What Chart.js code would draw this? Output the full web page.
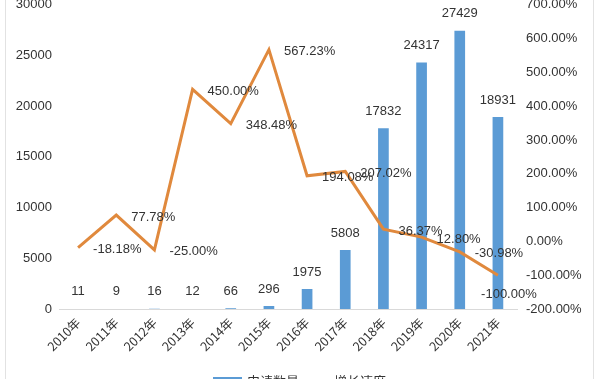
<!DOCTYPE html>
<html>
<head>
<meta charset="utf-8">
<script src="https://cdn.jsdelivr.net/npm/chart.js@4.4.1/dist/chart.umd.min.js"></script>
<style>
html,body{margin:0;padding:0;background:#fff;}
#wrap{position:relative;width:600px;height:379px;overflow:hidden;background:#fff;}
#inner{position:absolute;left:0;top:-12px;width:600px;height:400px;}
.edge{position:absolute;top:0;width:1px;height:379px;background:#e2e2e2;}
</style>
</head>
<body>
<div id="wrap">
  <div id="inner"><canvas id="c"></canvas></div>
  <div class="edge" style="left:5px"></div>
  <div class="edge" style="left:593px"></div>
</div>
<script>
const categories = ['2010年','2011年','2012年','2013年','2014年','2015年','2016年','2017年','2018年','2019年','2020年','2021年'];
const applications = [11, 9, 16, 12, 66, 296, 1975, 5808, 17832, 24317, 27429, 18931];
const growthRates = [-18.18, 77.78, -25.00, 450.00, 348.48, 567.23, 194.08, 207.02, 36.37, 12.80, -30.98, -100.00];
const seriesNames = ['申请数量', '增长速度'];
const leftTicks = [0, 5000, 10000, 15000, 20000, 25000, 30000];
const rightTicks = [-200, -100, 0, 100, 200, 300, 400, 500, 600, 700];

const BLUE = '#5B9BD5';
const ORANGE = '#E0893D';
const TEXT = '#333333';
const FONT = '"Liberation Sans", Arial, sans-serif';
const CJK = '"Noto Sans CJK SC", sans-serif';

const labelPlugin = {
  id: 'valueLabels',
  afterDatasetsDraw(chart) {
    const ctx = chart.ctx;
    ctx.save();
    ctx.font = '13px ' + FONT;
    ctx.fillStyle = TEXT;
    const barMeta = chart.getDatasetMeta(0);
    ctx.textAlign = 'center';
    ctx.textBaseline = 'middle';
    barMeta.data.forEach((el, i) => {
      ctx.fillText(String(applications[i]), el.x, el.y - 17);
    });
    const lineMeta = chart.getDatasetMeta(1);
    lineMeta.data.forEach((el, i) => {
      const txt = growthRates[i].toFixed(2) + '%';
      if (i === growthRates.length - 1) {
        ctx.textAlign = 'center';
        ctx.fillText(txt, el.x + 11, el.y + 19);
      } else {
        ctx.textAlign = 'left';
        ctx.fillText(txt, el.x + 15, el.y + 2);
      }
    });
    ctx.restore();
  },
  afterDraw(chart) {
    const ctx = chart.ctx;
    ctx.save();
    const y = 389 + 4;
    ctx.fillStyle = BLUE;
    ctx.fillRect(213, 389, 29, 9);
    ctx.fillStyle = TEXT;
    ctx.font = '13px ' + CJK;
    ctx.textAlign = 'left';
    ctx.textBaseline = 'middle';
    ctx.fillText(seriesNames[0], 247, y);
    ctx.strokeStyle = ORANGE;
    ctx.lineWidth = 3;
    ctx.beginPath();
    ctx.moveTo(302, y);
    ctx.lineTo(330, y);
    ctx.stroke();
    ctx.fillText(seriesNames[1], 334, y);
    ctx.restore();
  }
};

new Chart(document.getElementById('c'), {
  data: {
    labels: categories,
    datasets: [
      {
        type: 'bar',
        label: seriesNames[0],
        data: applications,
        backgroundColor: BLUE,
        yAxisID: 'y',
        barPercentage: 0.28,
        categoryPercentage: 1.0,
        order: 2
      },
      {
        type: 'line',
        label: seriesNames[1],
        data: growthRates,
        borderColor: ORANGE,
        backgroundColor: ORANGE,
        borderWidth: 3,
        pointRadius: 0,
        tension: 0,
        yAxisID: 'y1',
        order: 1
      }
    ]
  },
  options: {
    responsive: true,
    maintainAspectRatio: false,
    animation: false,
    layout: { padding: { top: 9, bottom: 0, left: 0, right: 0 } },
    plugins: {
      legend: { display: false },
      tooltip: { enabled: false }
    },
    scales: {
      x: {
        grid: { display: false, drawTicks: false },
        border: { display: true, color: '#d9d9d9', width: 1 },
        ticks: {
          color: TEXT,
          font: { family: CJK, size: 12.5 },
          maxRotation: 45,
          minRotation: 45,
          padding: 6,
          autoSkip: false
        },
        afterFit(s) { s.height = 79; }
      },
      y: {
        position: 'left',
        min: 0,
        max: 30000,
        grid: { display: false, drawTicks: false },
        border: { display: false },
        afterBuildTicks(s) { s.ticks = leftTicks.map(v => ({ value: v })); },
        ticks: {
          color: TEXT,
          font: { family: FONT, size: 13 },
          padding: 7,
          callback: v => String(v)
        },
        afterFit(s) { s.width = 59; }
      },
      y1: {
        position: 'right',
        min: -200,
        max: 700,
        grid: { display: false, drawTicks: false },
        border: { display: false },
        afterBuildTicks(s) { s.ticks = rightTicks.map(v => ({ value: v })); },
        ticks: {
          color: TEXT,
          font: { family: FONT, size: 13 },
          padding: 9,
          callback: v => Number(v).toFixed(2) + '%'
        },
        afterFit(s) { s.width = 83; }
      }
    }
  },
  plugins: [labelPlugin]
});
</script>
</body>
</html>
